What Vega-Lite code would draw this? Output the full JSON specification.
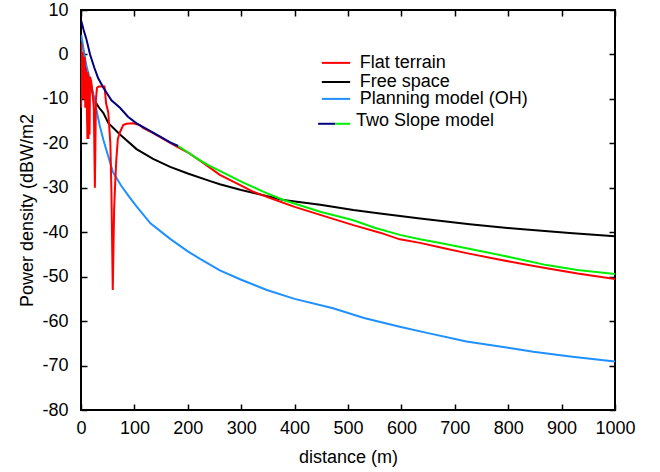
{
  "$schema": "https://vega.github.io/schema/vega-lite/v6.json",
  "width": 534,
  "height": 400,
  "autosize": "none",
  "padding": {"left": 81, "top": 10, "right": 45, "bottom": 62},
  "background": "white",
  "config": {
    "view": {"stroke": "black", "strokeWidth": 2},
    "font": "Liberation Sans",
    "axis": {
      "grid": false, "domain": false, "tickColor": "black", "tickWidth": 1.5, "tickSize": -6,
      "labelFont": "Liberation Sans", "labelFontSize": 18, "labelColor": "black", "labelFlush": false,
      "titleFont": "Liberation Sans", "titleFontSize": 18, "titleFontWeight": "normal", "titleColor": "black"
    }
  },
  "datasets": {
    "curves": [
      {"s":"free","x":0.5,"y":0.5},{"s":"free","x":5,"y":-1.5},{"s":"free","x":10,"y":-4},{"s":"free","x":15,"y":-6},{"s":"free","x":20,"y":-8},{"s":"free","x":26,"y":-10.5},{"s":"free","x":34,"y":-12},{"s":"free","x":42,"y":-13.2},{"s":"free","x":51,"y":-15.4},{"s":"free","x":73,"y":-18},{"s":"free","x":104,"y":-21.3},{"s":"free","x":135,"y":-23.5},{"s":"free","x":167,"y":-25.3},{"s":"free","x":200,"y":-26.8},{"s":"free","x":242,"y":-28.5},{"s":"free","x":260,"y":-29.2},{"s":"free","x":300,"y":-30.5},{"s":"free","x":379,"y":-32.75},{"s":"free","x":448,"y":-33.8},{"s":"free","x":510,"y":-35},{"s":"free","x":560,"y":-35.8},{"s":"free","x":635,"y":-36.9},{"s":"free","x":728,"y":-38.2},{"s":"free","x":822,"y":-39.3},{"s":"free","x":915,"y":-40.2},{"s":"free","x":1000,"y":-40.9},

      {"s":"oh","x":0.5,"y":4.4},{"s":"oh","x":5,"y":1},{"s":"oh","x":10,"y":-2.5},{"s":"oh","x":17,"y":-5.75},{"s":"oh","x":23,"y":-9},{"s":"oh","x":29,"y":-12.5},{"s":"oh","x":35,"y":-16},{"s":"oh","x":42,"y":-19.25},{"s":"oh","x":50,"y":-22.5},{"s":"oh","x":60,"y":-26.5},{"s":"oh","x":75,"y":-29.5},{"s":"oh","x":90,"y":-32},{"s":"oh","x":104,"y":-34.2},{"s":"oh","x":130,"y":-38},{"s":"oh","x":167,"y":-41.5},{"s":"oh","x":200,"y":-44.3},{"s":"oh","x":223,"y":-46},{"s":"oh","x":260,"y":-48.6},{"s":"oh","x":300,"y":-50.7},{"s":"oh","x":348,"y":-53},{"s":"oh","x":400,"y":-55},{"s":"oh","x":472,"y":-57.1},{"s":"oh","x":530,"y":-59.3},{"s":"oh","x":597,"y":-61.25},{"s":"oh","x":650,"y":-62.7},{"s":"oh","x":722,"y":-64.6},{"s":"oh","x":800,"y":-66},{"s":"oh","x":847,"y":-66.9},{"s":"oh","x":920,"y":-68},{"s":"oh","x":1000,"y":-69.1},

      {"s":"flat","x":0.3,"y":-12},{"s":"flat","x":1,"y":2.5},{"s":"flat","x":2,"y":-8},{"s":"flat","x":3,"y":0.5},{"s":"flat","x":4,"y":-10},{"s":"flat","x":5,"y":-1.5},{"s":"flat","x":6,"y":-6},{"s":"flat","x":7,"y":-0.5},{"s":"flat","x":8,"y":-12},{"s":"flat","x":9,"y":-3},{"s":"flat","x":10,"y":-5},{"s":"flat","x":12,"y":-19},{"s":"flat","x":13,"y":-4},{"s":"flat","x":14,"y":-19},{"s":"flat","x":15,"y":-8},{"s":"flat","x":16,"y":-18},{"s":"flat","x":17,"y":-5},{"s":"flat","x":19,"y":-6},{"s":"flat","x":21,"y":-8},{"s":"flat","x":24,"y":-12},{"s":"flat","x":26,"y":-30},{"s":"flat","x":28,"y":-10},{"s":"flat","x":30,"y":-7.5},{"s":"flat","x":33,"y":-7.2},{"s":"flat","x":44,"y":-7.2},{"s":"flat","x":47,"y":-11},{"s":"flat","x":51,"y":-13},{"s":"flat","x":55,"y":-20},{"s":"flat","x":57,"y":-31},{"s":"flat","x":59.5,"y":-53},{"s":"flat","x":62,"y":-35},{"s":"flat","x":64,"y":-29},{"s":"flat","x":66,"y":-24},{"s":"flat","x":69,"y":-19},{"s":"flat","x":73,"y":-17.5},{"s":"flat","x":79,"y":-15.9},{"s":"flat","x":85,"y":-15.6},{"s":"flat","x":98,"y":-15.5},{"s":"flat","x":110,"y":-15.9},{"s":"flat","x":117,"y":-16.6},{"s":"flat","x":135,"y":-17.7},{"s":"flat","x":150,"y":-18.7},{"s":"flat","x":167,"y":-19.9},{"s":"flat","x":182,"y":-20.9},{"s":"flat","x":198,"y":-21.9},{"s":"flat","x":229,"y":-24.4},{"s":"flat","x":260,"y":-27.1},{"s":"flat","x":300,"y":-29.5},{"s":"flat","x":323,"y":-30.9},{"s":"flat","x":354,"y":-32.3},{"s":"flat","x":400,"y":-34.3},{"s":"flat","x":448,"y":-36.1},{"s":"flat","x":510,"y":-38.4},{"s":"flat","x":560,"y":-40.1},{"s":"flat","x":597,"y":-41.6},{"s":"flat","x":635,"y":-42.4},{"s":"flat","x":680,"y":-43.6},{"s":"flat","x":722,"y":-44.7},{"s":"flat","x":780,"y":-46.1},{"s":"flat","x":830,"y":-47.2},{"s":"flat","x":872,"y":-48.1},{"s":"flat","x":930,"y":-49.3},{"s":"flat","x":1000,"y":-50.5},

      {"s":"ts1","x":0.5,"y":7.5},{"s":"ts1","x":5,"y":5.5},{"s":"ts1","x":10,"y":3.5},{"s":"ts1","x":17,"y":0},{"s":"ts1","x":25,"y":-3},{"s":"ts1","x":32,"y":-5.3},{"s":"ts1","x":42,"y":-7.5},{"s":"ts1","x":57,"y":-10.3},{"s":"ts1","x":73,"y":-12},{"s":"ts1","x":88,"y":-14},{"s":"ts1","x":104,"y":-15.5},{"s":"ts1","x":120,"y":-16.6},{"s":"ts1","x":135,"y":-17.6},{"s":"ts1","x":150,"y":-18.6},{"s":"ts1","x":167,"y":-19.8},{"s":"ts1","x":182,"y":-20.6},

      {"s":"ts2","x":182,"y":-20.6},{"s":"ts2","x":200,"y":-22},{"s":"ts2","x":220,"y":-23.6},{"s":"ts2","x":240,"y":-25},{"s":"ts2","x":260,"y":-26.2},{"s":"ts2","x":300,"y":-28.6},{"s":"ts2","x":340,"y":-30.8},{"s":"ts2","x":379,"y":-32.75},{"s":"ts2","x":448,"y":-35.4},{"s":"ts2","x":510,"y":-37.3},{"s":"ts2","x":550,"y":-39},{"s":"ts2","x":597,"y":-40.6},{"s":"ts2","x":635,"y":-41.6},{"s":"ts2","x":680,"y":-42.6},{"s":"ts2","x":722,"y":-43.6},{"s":"ts2","x":780,"y":-45},{"s":"ts2","x":830,"y":-46.3},{"s":"ts2","x":872,"y":-47.4},{"s":"ts2","x":930,"y":-48.5},{"s":"ts2","x":1000,"y":-49.4}
    ],
    "legendLines": [
      {"s":"flat","x":451,"x2":504,"y":-1.9},
      {"s":"free","x":451,"x2":504,"y":-6.2},
      {"s":"oh","x":451,"x2":504,"y":-10},
      {"s":"ts1","x":444,"x2":476,"y":-15.6},
      {"s":"ts2","x":476,"x2":504,"y":-15.6}
    ],
    "legendText": [
      {"label":"Flat terrain","x":522,"y":-1.9},
      {"label":"Free space","x":522,"y":-6.2},
      {"label":"Planning model (OH)","x":522,"y":-10},
      {"label":"Two Slope model","x":515,"y":-15.0}
    ]
  },
  "layer": [
    {
      "data": {"name": "curves"},
      "transform": [{"filter": "datum.s === 'free'"}],
      "mark": {"type": "line", "strokeWidth": 2, "clip": true},
      "encoding": {
        "x": {"field": "x", "type": "quantitative", "scale": {"domain": [0, 1000], "nice": false}, "axis": {"orient": "bottom", "title": "distance (m)", "format": "d", "values": [0,100,200,300,400,500,600,700,800,900,1000], "labelPadding": 15, "titlePadding": 11}},
        "y": {"field": "y", "type": "quantitative", "scale": {"domain": [-80, 10], "nice": false}, "axis": {"orient": "left", "title": "Power density (dBW/m2", "values": [-80,-70,-60,-50,-40,-30,-20,-10,0,10], "labelExpr": "datum.value < 0 ? '-' + abs(datum.value) : '' + datum.value", "labelPadding": 19, "titlePadding": 5}},
        "color": {"field": "s", "type": "nominal", "scale": {"domain": ["flat","free","oh","ts1","ts2"], "range": ["#ff0000","#000000","#1e90ff","#000080","#00ee00"]}, "legend": null}
      }
    },
    {
      "data": {"name": "curves"},
      "transform": [{"filter": "datum.s === 'oh'"}],
      "mark": {"type": "line", "strokeWidth": 2, "clip": true},
      "encoding": {
        "x": {"field": "x", "type": "quantitative", "axis": null},
        "y": {"field": "y", "type": "quantitative", "axis": null},
        "color": {"field": "s", "type": "nominal", "legend": null}
      }
    },
    {
      "data": {"name": "curves"},
      "transform": [{"filter": "datum.s === 'flat'"}],
      "mark": {"type": "line", "strokeWidth": 2, "clip": true},
      "encoding": {
        "x": {"field": "x", "type": "quantitative", "axis": null},
        "y": {"field": "y", "type": "quantitative", "axis": null},
        "color": {"field": "s", "type": "nominal", "legend": null}
      }
    },
    {
      "data": {"name": "curves"},
      "transform": [{"filter": "datum.s === 'ts1' || datum.s === 'ts2'"}],
      "mark": {"type": "line", "strokeWidth": 2, "clip": true},
      "encoding": {
        "x": {"field": "x", "type": "quantitative", "axis": null},
        "y": {"field": "y", "type": "quantitative", "axis": null},
        "color": {"field": "s", "type": "nominal", "legend": null}
      }
    },
    {
      "data": {"name": "legendLines"},
      "mark": {"type": "rule", "strokeWidth": 2},
      "encoding": {
        "x": {"field": "x", "type": "quantitative", "axis": null},
        "x2": {"field": "x2"},
        "y": {"field": "y", "type": "quantitative", "axis": null},
        "color": {"field": "s", "type": "nominal", "legend": null}
      }
    },
    {
      "data": {"name": "legendText"},
      "mark": {"type": "text", "align": "left", "baseline": "middle", "fontSize": 18, "font": "Liberation Sans", "color": "black"},
      "encoding": {
        "x": {"field": "x", "type": "quantitative", "axis": null},
        "y": {"field": "y", "type": "quantitative", "axis": null},
        "text": {"field": "label"}
      }
    },
    {
      "data": {"values": [{"x": 0, "y": 0}]},
      "mark": {"type": "point", "opacity": 0},
      "encoding": {
        "x": {"field": "x", "type": "quantitative", "axis": {"orient": "top", "labels": false, "title": null, "values": [0,100,200,300,400,500,600,700,800,900,1000]}},
        "y": {"field": "y", "type": "quantitative", "axis": {"orient": "right", "labels": false, "title": null, "values": [-80,-70,-60,-50,-40,-30,-20,-10,0,10]}}
      }
    }
  ],
  "resolve": {"axis": {"x": "independent", "y": "independent"}}
}
